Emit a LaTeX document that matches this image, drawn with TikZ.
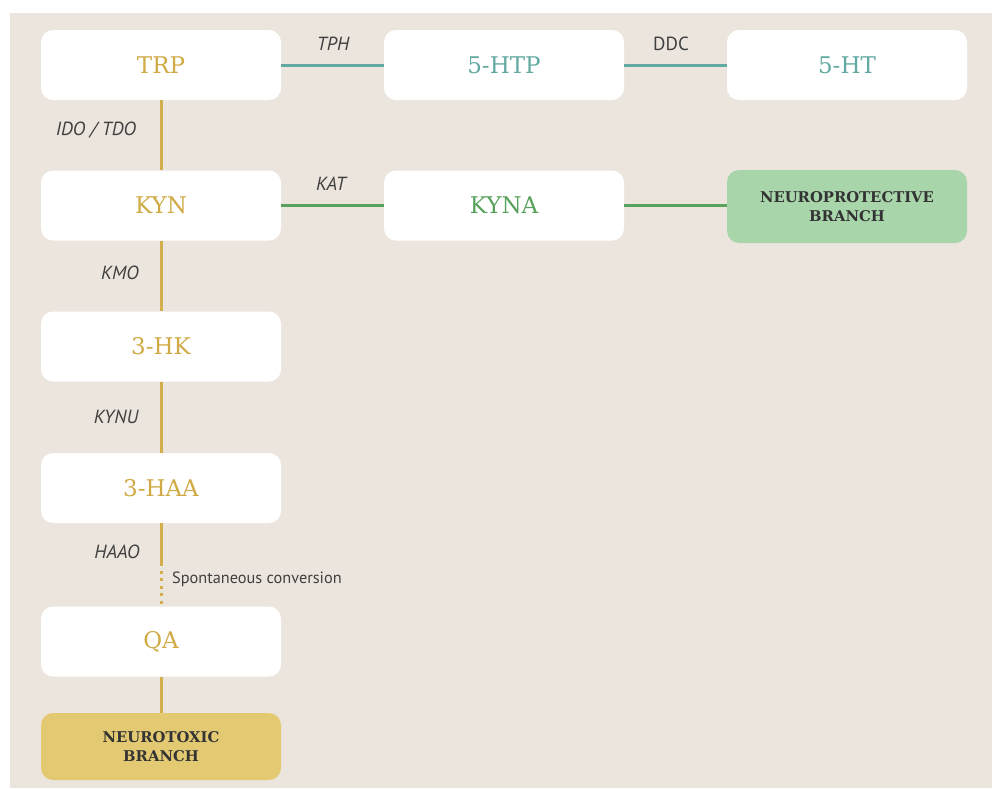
\documentclass[tikz,border=0pt]{standalone}
\usepackage{fontspec}
\setmainfont{DejaVu Serif}
\newfontfamily\enzfont{PT Sans}
\definecolor{bgbeige}{HTML}{ECE5DE}
\definecolor{gold}{HTML}{D2AE4C}
\definecolor{goldtext}{HTML}{CFAA45}
\definecolor{teal}{HTML}{62A9A1}
\definecolor{grn}{HTML}{58A25C}
\definecolor{protfill}{HTML}{A9D5AB}
\definecolor{toxfill}{HTML}{E3CA72}
\definecolor{lbl}{HTML}{404040}
\definecolor{dark}{HTML}{333333}
\tikzset{
  box/.style={fill=white, rounded corners=12pt, minimum width=240pt, minimum height=70pt, inner sep=0pt, font=\fontsize{23}{26}\selectfont},
  branchbox/.style={rounded corners=12pt, minimum width=240pt, minimum height=70pt, inner sep=0pt, align=center, text=dark, font=\fontsize{14.8}{19.5}\selectfont\bfseries},
  enz/.style={text=lbl, font=\enzfont\fontsize{19}{22}\selectfont\itshape, inner sep=0pt},
  enzup/.style={text=lbl, font=\enzfont\fontsize{19}{22}\selectfont, inner sep=0pt},
  goldline/.style={draw=gold, line width=3pt},
  tealline/.style={draw=teal, line width=3pt},
  grnline/.style={draw=grn, line width=3pt}
}
\begin{document}
\begin{tikzpicture}[x=1pt,y=-1pt]
\useasboundingbox (0,0) rectangle (998,788);
\fill[white] (0,0) rectangle (998,788);
\fill[bgbeige] (10,13) rectangle (992,788);

\node[box, text=goldtext] (trp) at (161,65) {TRP};
\node[box, text=teal] (htp) at (504,65) {5-HTP};
\node[box, text=teal] (ht) at (847,65) {5-HT};
\node[box, text=goldtext] (kyn) at (161,205.5) {KYN};
\node[box, text=grn] (kyna) at (504,205.5) {KYNA};
\node[branchbox, fill=protfill, minimum height=73pt] (prot) at (847,206.5) {NEUROPROTECTIVE\\BRANCH};
\node[box, text=goldtext] (hk) at (161,346.5) {3-HK};
\node[box, text=goldtext] (haa) at (161,488) {3-HAA};
\node[box, text=goldtext] (qa) at (161,641.5) {QA};
\node[branchbox, fill=toxfill, minimum height=67pt] (tox) at (161,746.5) {NEUROTOXIC\\BRANCH};

\coordinate (haaoend) at (161,563);

\draw[tealline] (trp.east) -- (htp.west);
\draw[tealline] (htp.east) -- (ht.west);
\draw[grnline] (kyn.east) -- (kyna.west);
\draw[grnline] (kyna.east) -- (prot.west |- kyna.east);
\draw[goldline] (trp.south) -- (kyn.north);
\draw[goldline] (kyn.south) -- (hk.north);
\draw[goldline] (hk.south) -- (haa.north);
\draw[goldline] (haa.south) -- (haaoend);
\draw[draw=gold, line width=3pt, dash pattern=on 3pt off 4.5pt] (haaoend) -- (qa.north);
\draw[goldline] (qa.south) -- (tox.north);

\node[enz] (tph) at (333,44) {TPH};
\node[enzup] (ddc) at (671,44) {DDC};
\node[enz] (kat) at (331,184) {KAT};
\node[enz] (ido) at (96,130) {IDO / TDO};
\node[enz] (kmo) at (120,273) {KMO};
\node[enz] (kynu) at (116,417) {KYNU};
\node[enz] (haao) at (117,552) {HAAO};
\node[enzup, anchor=west, font=\enzfont\fontsize{16.3}{19}\selectfont] (spont) at (172,579) {Spontaneous conversion};
\end{tikzpicture}
\end{document}
